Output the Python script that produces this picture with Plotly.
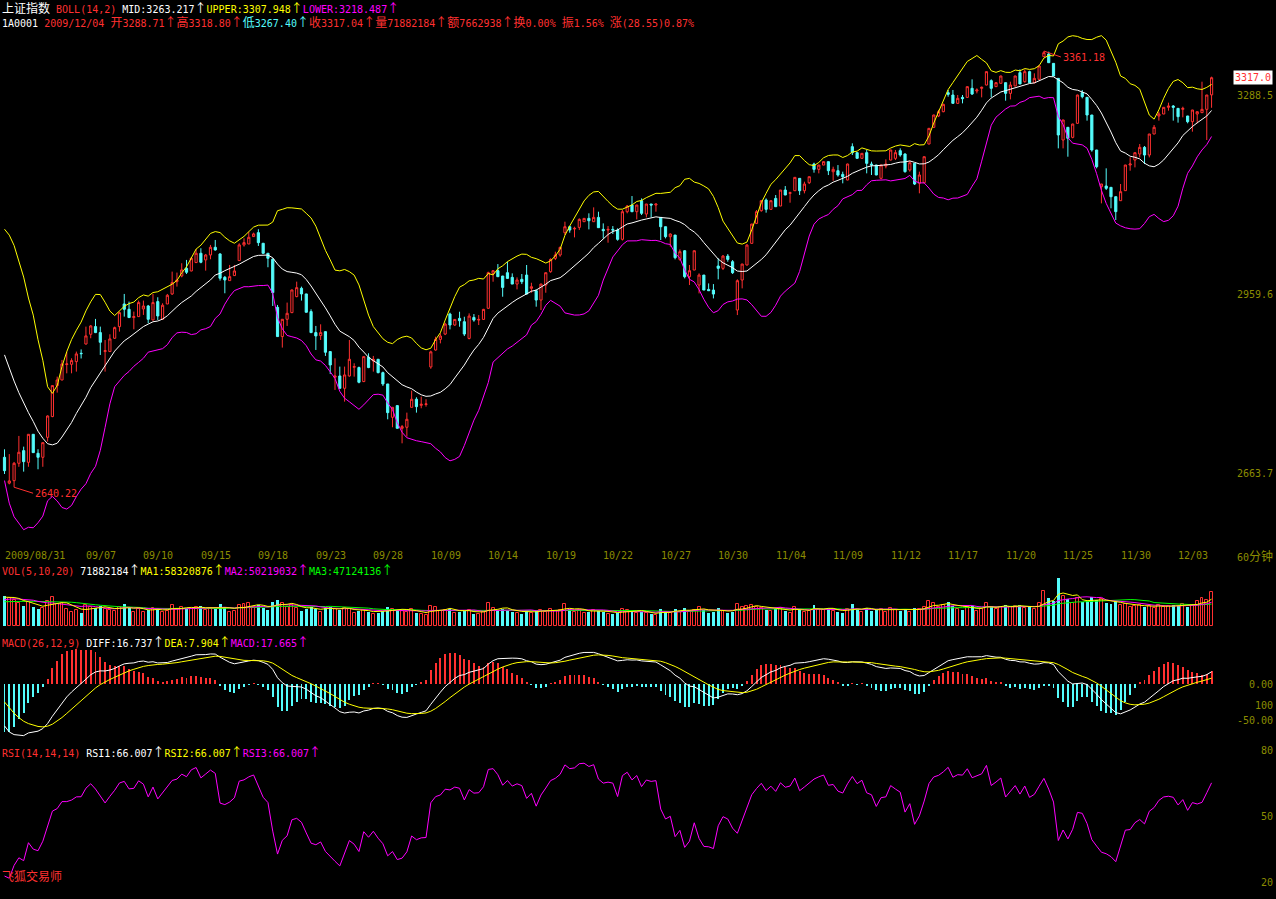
import plotly.graph_objects as go
import pandas as pd

W, H = 1276, 899

# ---------------- data: 60-minute bars, 2009/08/31 15:00 ... 2009/12/04 ----------------
opens = [
    2689.7, 2647, 2651.1, 2679.8, 2700.7, 2681.4, 2727.7, 2696.3, 2689.7, 2722.7,
    2757, 2808.2, 2817.5, 2843, 2843.4, 2847.8, 2861.6, 2877, 2893, 2905.7,
    2895.8, 2864.4, 2864.4, 2886.4, 2905.7, 2943.1, 2934.3, 2920.6, 2922.2, 2934.9,
    2939.8, 2916.7, 2947, 2917.8, 2943.1, 2959.7, 2980, 2989.4, 3002.1, 2997.7,
    3011.5, 3026.9, 3015.9, 3024.1, 3036.8, 3025.8, 2987.2, 2981.7, 2990, 3014.8,
    3040.7, 3042.3, 3054.5, 3061, 3043.4, 3026.9, 3017, 2937.6, 2889.2, 2917.8,
    2928.8, 2955.3, 2969, 2959.7, 2930.5, 2895.8, 2890.8, 2897.4, 2864.4, 2821.9,
    2824.1, 2803.7, 2824.1, 2838.5, 2838, 2814.8, 2855, 2849, 2851.7, 2829.6,
    2810.9, 2755.8, 2775.1, 2737.6, 2739.3, 2772.3, 2785.6, 2775.6, 2777, 2839,
    2867, 2884.6, 2893.4, 2926.5, 2908.3, 2919.3, 2913.8, 2886.2, 2920.9, 2916.5,
    2917.6, 2936, 2993.7, 2998.1, 2989.3, 2994.8, 2987.1, 2976, 2983.8, 2990.9,
    2968.9, 2965, 2949.6, 2974.4, 2996.4, 3018.5, 3024, 3060.9, 3070.8, 3067,
    3069.7, 3079.1, 3084.6, 3079.1, 3086.2, 3066.4, 3065.3, 3066.4, 3065.3, 3050,
    3095.6, 3106.6, 3095.6, 3113.8, 3091.8, 3108.3, 3106.6, 3086.2, 3070.8, 3054.3,
    3057, 3016.8, 3031.1, 2988.2, 2999.2, 2974.4, 2990.9, 2967.2, 2966.1, 3005.8,
    3002, 3022.3, 3013, 2933.1, 2982.7, 3007.5, 3043.3, 3076.3, 3097.3, 3114.9,
    3099.5, 3117.6, 3105, 3131.4, 3125.9, 3130.3, 3150.7, 3130.3, 3143.5, 3174.4,
    3165.6, 3172.7, 3178.3, 3161.7, 3163.4, 3157.3, 3148, 3203.1, 3193.2, 3183.8,
    3193.2, 3174.4, 3172.8, 3150.8, 3171.1, 3181, 3183.8, 3196.5, 3191, 3164.5,
    3175.5, 3142.5, 3143.6, 3207.5, 3235.1, 3253.8, 3260.9, 3292.3, 3288.5, 3274.7,
    3284.6, 3284.6, 3299.5, 3295.1, 3299.5, 3305, 3312.2, 3302.3, 3307.8, 3308.9,
    3291.2, 3303.4, 3325.4, 3310.5, 3327.1, 3308.9, 3314.4, 3351.9, 3356.3, 3340.8,
    3316, 3214.1, 3235.1, 3218.5, 3241.7, 3292.3, 3284.6, 3255.4, 3197.6, 3137,
    3138.1, 3135.9, 3120.4, 3113.8, 3130.4, 3172.8, 3181, 3191, 3202, 3189.3,
    3224, 3253.8, 3257.1, 3268.1, 3270.3, 3266.4, 3264.8, 3253.8, 3244.4, 3257.1,
    3259.3, 3264.8, 3288.71]
highs = [
    2702.9, 2695, 2682, 2725, 2707.3, 2728, 2728, 2703, 2714, 2759,
    2808.5, 2823, 2850.6, 2864.4, 2853.3, 2864.4, 2868, 2905.7, 2908.4, 2918.4,
    2905.7, 2883.6, 2893, 2905.7, 2930.5, 2959.7, 2947, 2930.5, 2948.7, 2948.7,
    2941.5, 2959.7, 2954.2, 2944.3, 2959.7, 2996.6, 2995, 3010.4, 3015.9, 3020.3,
    3033.5, 3035.2, 3025.8, 3040.7, 3048.9, 3026.9, 2989.4, 3007.6, 3007.6, 3043.4,
    3051.7, 3062.7, 3061, 3066.6, 3044, 3027, 3018.6, 2941.5, 2918, 2945.4,
    2967, 2980, 2971.8, 2960, 2934.3, 2906.8, 2909.5, 2898, 2865, 2853.3,
    2839.6, 2839.6, 2883.6, 2845.1, 2839.6, 2856.5, 2861.6, 2857.2, 2852, 2831.3,
    2811, 2772.5, 2775.5, 2743.1, 2763.5, 2799.9, 2788.9, 2790, 2785.6, 2866,
    2889, 2894.5, 2912, 2928.7, 2918, 2930.3, 2922, 2927.6, 2926.5, 2924.8,
    2935, 2996.4, 2999.2, 3009.1, 2989.5, 3013, 2993.7, 2987.1, 2992.6, 3007.5,
    2978.2, 2967.2, 2976.5, 2995, 3018.5, 3029.5, 3037.8, 3079.1, 3071.9, 3070.8,
    3084.6, 3085, 3092.9, 3102.8, 3095.6, 3076.3, 3071.9, 3071.9, 3068.1, 3098.4,
    3106.6, 3121.5, 3107, 3117.6, 3108.5, 3108.5, 3108.5, 3086.5, 3071, 3059.8,
    3057.2, 3033.3, 3032.2, 3007.5, 3031.5, 2993.7, 2991, 2977.1, 2976, 3018.5,
    3024, 3025.6, 3015.7, 2983.8, 3009.5, 3042.2, 3075.5, 3098.4, 3114.9, 3117.6,
    3114, 3123.2, 3131.6, 3138, 3128.7, 3152.6, 3151, 3145.2, 3153.7, 3176.6,
    3173, 3178.5, 3178.5, 3170, 3172.7, 3161.8, 3175, 3208.6, 3194, 3192.5,
    3197.6, 3178.3, 3173, 3173, 3182.1, 3198, 3197.6, 3200.3, 3192.1, 3179.9,
    3176, 3161.8, 3187, 3234, 3256, 3264, 3274, 3296.8, 3296.8, 3288.5,
    3288.5, 3302.5, 3314.4, 3299.5, 3302.3, 3327.5, 3314.4, 3309.5, 3320.5, 3309,
    3310.5, 3320.5, 3330.9, 3330.9, 3328.7, 3324.3, 3337, 3361.18, 3360.1, 3341,
    3316.5, 3247.5, 3235.5, 3241, 3289, 3296.8, 3285, 3255.6, 3197.8, 3141.6,
    3167.3, 3136, 3120.6, 3141.4, 3173, 3185.4, 3193.4, 3207.5, 3204.2, 3224.2,
    3238.9, 3260.9, 3268.5, 3275.8, 3271.9, 3266.6, 3269.2, 3254, 3264, 3261,
    3310.5, 3288.7, 3318.80]
lows = [
    2662.1, 2645, 2640.22, 2674, 2666, 2674, 2697, 2669.9, 2674, 2715.6,
    2756, 2796.6, 2817, 2828.5, 2828.5, 2831.3, 2853, 2876, 2886.4, 2895,
    2858.8, 2831.3, 2864, 2885.3, 2897.4, 2922.2, 2920, 2901.3, 2922, 2925,
    2911.2, 2916, 2916.7, 2916.7, 2943, 2958, 2971.8, 2987.2, 2992.7, 2997,
    3011, 3010.4, 2998.2, 3017, 3031.3, 2981.7, 2960.8, 2981.7, 2989.4, 3014.8,
    3037.9, 3042, 3054, 3039, 3026, 3003.8, 2939.8, 2889, 2871, 2906.8,
    2928, 2954.2, 2948.7, 2929, 2895, 2867.1, 2883.6, 2857.2, 2827.4, 2801,
    2803, 2781.7, 2823, 2823, 2812, 2814, 2837, 2831.3, 2828.5, 2807.6,
    2752.5, 2739.3, 2737, 2712.8, 2723.8, 2772, 2763.5, 2770.7, 2773.4, 2836,
    2866, 2878, 2891.7, 2901.1, 2907, 2905.5, 2890.1, 2884.6, 2913.8, 2908.3,
    2917, 2935, 2979.9, 2988, 2955.1, 2985, 2976, 2967.2, 2976, 2959,
    2961.7, 2938.6, 2933.1, 2961.7, 2994.8, 3015.7, 3021.2, 3057, 3060.9, 3053.2,
    3065.3, 3079, 3066.4, 3079, 3069, 3051.5, 3044.4, 3058.7, 3047.7, 3048,
    3092.9, 3095, 3082.9, 3090.1, 3086.2, 3086.2, 3095.6, 3048.8, 3051.5, 3037.8,
    3016.8, 3014.6, 2985.4, 2974.4, 2999, 2960.6, 2966, 2965, 2952.3, 2983.8,
    2999.2, 3013, 2992.6, 2924.8, 2968.9, 3007, 3043, 3075.2, 3095.6, 3094,
    3099, 3103.5, 3104.8, 3123, 3110.5, 3130, 3123.2, 3125.9, 3141.3, 3160.1,
    3159, 3172.5, 3156.2, 3146.8, 3153.5, 3142.5, 3147.5, 3189.3, 3183, 3183.5,
    3159, 3156.3, 3156, 3149.1, 3167.3, 3180.5, 3181, 3186.5, 3160.1, 3161.8,
    3139.7, 3126, 3143, 3207, 3234, 3252, 3260, 3285.7, 3274.5, 3273.6,
    3274.7, 3284, 3288.5, 3291.2, 3284.6, 3304.5, 3284.6, 3302, 3307.5, 3279.1,
    3281.3, 3303, 3306.5, 3308.9, 3308.5, 3307.8, 3314, 3351.5, 3341.5, 3319.5,
    3200.3, 3200.3, 3186.5, 3216.9, 3241, 3283, 3246.1, 3194.8, 3167.3, 3109.4,
    3131.5, 3101.2, 3081.9, 3113.5, 3130, 3163.4, 3168.9, 3185.4, 3174.4, 3185.4,
    3223.8, 3246.1, 3256.8, 3262.6, 3246.1, 3242.8, 3251.6, 3241.7, 3227.9, 3241.7,
    3259, 3214.1, 3267.40]
closes = [
    2667.6, 2650.6, 2679.8, 2698, 2682.5, 2727.7, 2697.4, 2689.7, 2713.9, 2758,
    2808.2, 2817.5, 2844, 2844, 2849.5, 2860.5, 2861, 2890.3, 2906.8, 2895.8,
    2879.8, 2866, 2885.3, 2904, 2928.8, 2934.3, 2920.6, 2922.2, 2945.4, 2939.8,
    2917.8, 2945.4, 2923.3, 2941, 2957.5, 2978.4, 2982.8, 2999.4, 2995.5, 3018.6,
    3026.9, 3012, 3024.1, 3036.8, 3032.4, 2985.6, 2982.8, 2988.3, 2997.7, 3040.7,
    3044.5, 3053.3, 3058.9, 3044.5, 3026.9, 3018.6, 2961.9, 2889.2, 2917.8, 2927.7,
    2966.3, 2970.1, 2959.7, 2929.4, 2895.8, 2890.3, 2895.8, 2863.3, 2842.3, 2824.1,
    2803.7, 2825.8, 2851.7, 2839.6, 2813.7, 2856.1, 2838, 2851.7, 2829.6, 2810.9,
    2763.5, 2772.3, 2737.6, 2740.4, 2752.5, 2785.6, 2773.4, 2777.3, 2777.9, 2864,
    2884.6, 2890.1, 2909.9, 2908.3, 2917.6, 2915.4, 2893.4, 2923.1, 2916.5, 2917.6,
    2934.2, 2994.8, 2998.1, 2988.2, 2970.5, 2985.4, 2976, 2982.7, 2979.9, 2959.5,
    2971.6, 2949.6, 2976, 2994.8, 3016.8, 3024, 3036.7, 3070.8, 3065.3, 3068.1,
    3082.9, 3084.6, 3080.7, 3086.2, 3069.2, 3064.2, 3066.4, 3065.3, 3049.9, 3095.6,
    3105, 3095.6, 3106.6, 3092.9, 3108.3, 3106.6, 3108.3, 3070.8, 3054.3, 3058.7,
    3019.6, 3029.5, 2988.2, 2998.1, 3031.1, 2990.9, 2966.1, 2965, 2959.5, 3002,
    3022.3, 3016.8, 2994.8, 2981.6, 3009.1, 3040.5, 3075.2, 3095.6, 3113.8, 3099.5,
    3113.8, 3103.9, 3131.4, 3123.2, 3127, 3152.4, 3130.3, 3141.3, 3153.5, 3165.6,
    3172.7, 3178.3, 3163.4, 3165.6, 3156.2, 3153.5, 3174.4, 3193.2, 3183.8, 3192.1,
    3175.5, 3172.8, 3156.3, 3172.8, 3174.4, 3197.6, 3193.2, 3189.3, 3161.8, 3176.6,
    3141.4, 3156.3, 3186.5, 3233.4, 3255.4, 3260.9, 3273.1, 3289.6, 3274.7, 3283,
    3282.4, 3302.3, 3290.1, 3296.8, 3301.2, 3327.1, 3299.5, 3308.9, 3319.9, 3291.2,
    3305, 3319.9, 3306.7, 3327.1, 3308.9, 3316, 3336.4, 3358.5, 3341.9, 3319.9,
    3222.4, 3247.2, 3216.9, 3240.5, 3288.5, 3285.7, 3255.4, 3197.6, 3170, 3141.4,
    3134.2, 3120.4, 3095.7, 3128.7, 3172.8, 3174.4, 3193.2, 3202, 3189.3, 3224,
    3235.1, 3257.1, 3268.1, 3270.3, 3268.1, 3252.7, 3266.4, 3244.4, 3263.7, 3260.9,
    3264.8, 3288.49, 3317.04]
# volume, in thousands
volumes = [
    62000, 58000, 55000, 48000, 42000, 50000, 40000, 36000, 38000, 52000,
    60000, 45000, 48000, 36000, 30000, 34000, 28000, 44000, 40000, 38000,
    42000, 36000, 34000, 32000, 40000, 46000, 38000, 30000, 36000, 30000,
    34000, 38000, 36000, 30000, 32000, 44000, 36000, 40000, 38000, 36000,
    40000, 42000, 34000, 38000, 36000, 46000, 40000, 30000, 32000, 44000,
    46000, 48000, 40000, 44000, 38000, 34000, 50000, 54000, 48000, 40000,
    44000, 38000, 32000, 36000, 40000, 36000, 30000, 38000, 40000, 36000,
    34000, 38000, 36000, 28000, 32000, 34000, 30000, 26000, 28000, 32000,
    40000, 36000, 34000, 32000, 30000, 36000, 28000, 24000, 22000, 42000,
    40000, 32000, 34000, 36000, 28000, 30000, 32000, 34000, 26000, 24000,
    30000, 48000, 38000, 34000, 36000, 32000, 30000, 28000, 26000, 34000,
    28000, 32000, 34000, 30000, 36000, 32000, 34000, 46000, 36000, 30000,
    34000, 28000, 30000, 34000, 32000, 30000, 26000, 24000, 28000, 36000,
    34000, 32000, 28000, 30000, 28000, 24000, 22000, 36000, 32000, 28000,
    36000, 30000, 38000, 32000, 34000, 40000, 34000, 28000, 30000, 38000,
    32000, 28000, 30000, 46000, 40000, 42000, 44000, 40000, 38000, 34000,
    32000, 36000, 38000, 32000, 28000, 40000, 34000, 30000, 32000, 44000,
    36000, 34000, 38000, 32000, 30000, 28000, 36000, 46000, 36000, 30000,
    38000, 32000, 34000, 36000, 30000, 38000, 34000, 32000, 36000, 30000,
    38000, 36000, 40000, 52000, 48000, 40000, 44000, 50000, 42000, 36000,
    34000, 40000, 42000, 32000, 36000, 48000, 42000, 36000, 40000, 44000,
    40000, 42000, 44000, 38000, 40000, 36000, 48000, 72000, 58000, 52000,
    100000, 62000, 56000, 48000, 58000, 50000, 52000, 60000, 54000, 56000,
    48000, 46000, 52000, 44000, 46000, 40000, 42000, 44000, 40000, 42000,
    38000, 44000, 40000, 42000, 44000, 42000, 46000, 40000, 44000, 52000,
    58000, 54000, 71882]

# closes / volumes of the bars before the first visible bar (indicator warm-up only, not drawn)
pre_closes = [
    2930, 2890, 2905, 2870, 2895, 2880, 2910, 2911, 2890, 2850, 2815, 2786,
    2830, 2815, 2860, 2880, 2870, 2925, 2910, 2960, 2945, 3005, 2990, 3025,
    3000, 3015, 2990, 3005, 3020, 2995, 2981, 2956, 2966, 2931, 2941, 2901,
    2916, 2876, 2886, 2834, 2780, 2700, 2690]
pre_volumes = [48000, 46000, 50000, 44000, 42000, 46000, 40000, 44000, 52000, 48000,
               46000, 50000, 54000, 48000, 52000, 56000, 60000, 58000, 64000]

date_labels = ['2009/08/31', '09/07', '09/10', '09/15', '09/18', '09/23', '09/28', '10/09',
               '10/14', '10/19', '10/22', '10/27', '10/30', '11/04', '11/09', '11/12',
               '11/17', '11/20', '11/25', '11/30', '12/03']
date_label_bars = [0, 17, 29, 41, 53, 65, 77, 89, 101, 113, 125, 137, 149, 161, 173, 185,
                   197, 209, 221, 233, 245]
price_ticks = [2663.7, 2959.6, 3288.5]
price_tick_text = ['2663.7', '2959.6', '3288.5']
vol_ticks = [100000, 0]
vol_tick_text = ['100000', 'X10000']
macd_ticks = [0, -29.2, -50]
macd_tick_text = ['0.00', '100', '-50.00']
rsi_ticks = [80, 50, 20]
rsi_tick_text = ['80', '50', '20']
peak_bar, peak_val = 217, 3361.18
low_bar, low_val = 2, 2640.22
last_close = 3317.04

# ---------------- indicators ----------------
n_pre = len(pre_closes)
c_all = pd.Series(pre_closes + closes, dtype=float)
mid = c_all.rolling(14).mean()
sd = c_all.rolling(14).std(ddof=0)
upper = mid + 2 * sd
lower = mid - 2 * sd
ema12 = c_all.ewm(span=12, adjust=False).mean()
ema26 = c_all.ewm(span=26, adjust=False).mean()
dif = ema12 - ema26
dea = dif.ewm(span=9, adjust=False).mean()
macd = 2 * (dif - dea)
chg = c_all.diff().fillna(0)
rsi = chg.clip(lower=0).ewm(alpha=1 / 14, adjust=False).mean() / \
    chg.abs().ewm(alpha=1 / 14, adjust=False).mean() * 100

v_all = pd.Series(pre_volumes + volumes, dtype=float)
npv = len(pre_volumes)
vma5 = v_all.rolling(5).mean()[npv:]
vma10 = v_all.rolling(10).mean()[npv:]
vma20 = v_all.rolling(20).mean()[npv:]

sl = slice(n_pre, None)
mid, upper, lower = mid[sl], upper[sl], lower[sl]
dif, dea, macd, rsi = dif[sl], dea[sl], macd[sl], rsi[sl]

n = len(closes)
xs = list(range(n))

RED = '#ff3030'
CYAN = '#54fcfc'
YEL = '#ffff00'
MAG = '#ff00ff'
GRN = '#00ff00'
WHITE = '#ffffff'
OLIVE = '#8c8c00'
MONO = 'DejaVu Sans Mono, Liberation Mono, monospace'
CJK = 'Noto Sans CJK SC'

fig = go.Figure()


def line(y, color, axis):
    fig.add_trace(go.Scatter(x=xs, y=list(y), mode='lines', yaxis=axis,
                             line=dict(color=color, width=1), hoverinfo='skip'))


# main panel
line(upper, YEL, 'y')
line(lower, MAG, 'y')
line(mid, WHITE, 'y')
fig.add_trace(go.Candlestick(
    x=xs, open=opens, high=highs, low=lows, close=closes, yaxis='y',
    increasing=dict(line=dict(color=RED, width=1), fillcolor='black'),
    decreasing=dict(line=dict(color=CYAN, width=1), fillcolor=CYAN),
    whiskerwidth=0, hoverinfo='skip'))

# volume panel
up_idx = [i for i in xs if closes[i] >= opens[i]]
dn_idx = [i for i in xs if closes[i] < opens[i]]
fig.add_trace(go.Bar(x=dn_idx, y=[volumes[i] for i in dn_idx], yaxis='y2', width=0.62,
                     marker=dict(color=CYAN, line=dict(width=0))))
fig.add_trace(go.Bar(x=up_idx, y=[volumes[i] for i in up_idx], yaxis='y2', width=0.62,
                     marker=dict(color='black', line=dict(color=RED, width=1))))
line(vma20, GRN, 'y2')
line(vma10, MAG, 'y2')
line(vma5, YEL, 'y2')

# MACD panel
mv = list(macd)
fig.add_trace(go.Bar(x=xs, y=mv, yaxis='y3', width=0.2,
                     marker=dict(color=[RED if v >= 0 else CYAN for v in mv], line=dict(width=0))))
line(dif, WHITE, 'y3')
line(dea, YEL, 'y3')

# RSI panel
line(rsi, MAG, 'y4')


def py(ypix):
    return 1 - ypix / H


def px(xpix):
    return xpix / W


def yax(top, bottom, rng, tv, tt):
    return dict(domain=[py(bottom), py(top)], range=rng, anchor='x', side='right',
                ticklabelposition='inside', tickvals=tv, ticktext=tt, ticks='',
                showgrid=False, zeroline=False, showline=False, fixedrange=True,
                tickfont=dict(color=OLIVE, size=10, family=MONO))


s_price = 1.6528  # price per pixel
fig.update_layout(
    width=W, height=H, margin=dict(l=0, r=0, t=0, b=0),
    paper_bgcolor='black', plot_bgcolor='black', showlegend=False, hovermode=False,
    bargap=0, boxgap=0.35,
    xaxis=dict(range=[-0.94, 265.45], domain=[0, 1], visible=False,
               rangeslider=dict(visible=False), fixedrange=True),
    yaxis=yax(30, 540, [3288.5 - 445 * s_price, 3288.5 + 65 * s_price], price_ticks, price_tick_text),
    yaxis2=yax(574, 626, [0, 100000 * 52 / 48], vol_ticks, vol_tick_text),
    yaxis3=yax(648, 740, [-(740 - 684) * 50 / 36, (684 - 648) * 50 / 36], macd_ticks, macd_tick_text),
    yaxis4=yax(740, 899, [50 - (899 - 816) / 2.2, 50 + (816 - 740) / 2.2], rsi_ticks, rsi_tick_text),
)


def rich(parts):
    out = []
    for text, color in parts:
        runs = []
        for ch in text:
            wide = ord(ch) > 0x2000
            if runs and runs[-1][0] == wide:
                runs[-1][1] += ch
            else:
                runs.append([wide, ch])
        for wide, s in runs:
            if wide:
                out.append(f"<span style=\"color:{color};font-family:'{CJK}';font-size:12px\">{s}</span>")
            else:
                out.append(f'<span style="color:{color}">{s}</span>')
    return ''.join(out)


def text_at(xpix, ypix, parts, anchor='left'):
    fig.add_annotation(xref='paper', yref='paper', x=px(xpix), y=py(ypix), text=rich(parts),
                       showarrow=False, xanchor=anchor, yanchor='middle',
                       font=dict(family=MONO, size=10, color=WHITE))


AR = '↑'
text_at(0, 8, [('上证指数 ', WHITE), ('BOLL(14,2) ', RED), ('MID:3263.217' + AR, WHITE),
               ('UPPER:3307.948' + AR, YEL), ('LOWER:3218.487' + AR, MAG)])
text_at(0, 22, [('1A0001 ', WHITE), ('2009/12/04 ', RED), ('开3288.71' + AR, RED),
                ('高3318.80' + AR, RED), ('低3267.40' + AR, CYAN), ('收3317.04' + AR, RED),
                ('量71882184' + AR, RED), ('额7662938' + AR, RED), ('换0.00% ', RED),
                ('振1.56% ', RED), ('涨(28.55)0.87%', RED)])
text_at(0, 569, [('VOL(5,10,20) ', RED), ('71882184' + AR, WHITE), ('MA1:58320876' + AR, YEL),
                 ('MA2:50219032' + AR, MAG), ('MA3:47124136' + AR, GRN)])
text_at(0, 641, [('MACD(26,12,9) ', RED), ('DIFF:16.737' + AR, WHITE), ('DEA:7.904' + AR, YEL),
                 ('MACD:17.665' + AR, MAG)])
text_at(0, 751, [('RSI(14,14,14) ', RED), ('RSI1:66.007' + AR, WHITE), ('RSI2:66.007' + AR, YEL),
                 ('RSI3:66.007' + AR, MAG)])
text_at(0, 875, [('飞狐交易师', RED)])
text_at(1235, 555, [('60分钟', OLIVE)])

# date labels on the time axis
for lab, b in zip(date_labels, date_label_bars):
    fig.add_annotation(xref='x', yref='paper', x=b, y=py(555), text=lab, showarrow=False,
                       xanchor='left', yanchor='middle', xshift=-2,
                       font=dict(family=MONO, size=10, color=OLIVE))

# max / min markers
fig.add_annotation(xref='x', yref='y', x=peak_bar, y=peak_val, text=f'{peak_val:.2f}',
                   showarrow=True, arrowhead=0, arrowwidth=1, arrowcolor=RED, ax=17, ay=6,
                   xanchor='left', yanchor='middle', font=dict(family=MONO, size=10, color=RED))
fig.add_annotation(xref='x', yref='y', x=low_bar, y=low_val, text=f'{low_val:.2f}',
                   showarrow=True, arrowhead=0, arrowwidth=1, arrowcolor=RED, ax=19, ay=6,
                   xanchor='left', yanchor='middle', font=dict(family=MONO, size=10, color=RED))
# last price tag
fig.add_annotation(xref='paper', yref='y', x=px(1273), y=last_close, text=f'{last_close:.1f}',
                   showarrow=False, xanchor='right', yanchor='middle', bgcolor='white',
                   borderpad=1, font=dict(family=MONO, size=10, color=RED))

fig.write_html("out.html", config={'displayModeBar': False},
               post_script="document.body.style.margin='0';")
